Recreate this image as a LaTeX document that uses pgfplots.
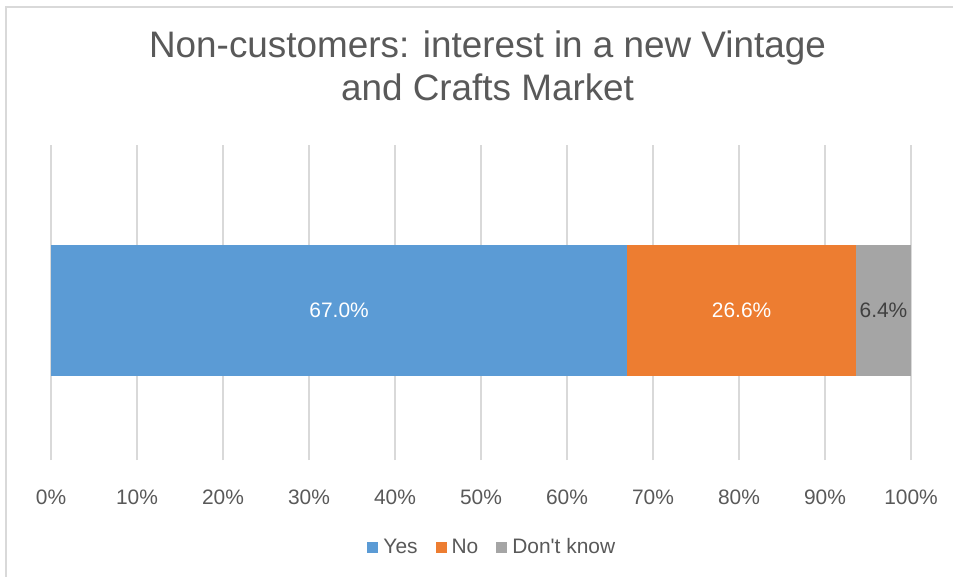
\documentclass[border=0pt]{standalone}
\usepackage{pgfplots}
\pgfplotsset{compat=1.18}
\usepackage{fontspec}
\setmainfont{Liberation Sans}[Ligatures=TeXOff]
\definecolor{cYes}{HTML}{5B9BD5}
\definecolor{cNo}{HTML}{ED7D31}
\definecolor{cDK}{HTML}{A5A5A5}
\definecolor{txt}{HTML}{595959}
\definecolor{gridc}{HTML}{D9D9D9}
\begin{document}
\begin{tikzpicture}
\useasboundingbox (0,0) rectangle (953bp,577bp);
\fill[white] (0,0) rectangle (953bp,577bp);
\draw[gridc, line width=1.5bp] (6bp,-10bp) -- (6bp,570bp) -- (965bp,570bp);
\begin{axis}[
  at={(51bp,117bp)}, anchor=south west,
  scale only axis, width=860bp, height=315bp,
  xbar stacked, bar width=131bp,
  xmin=0, xmax=100, ymin=0, ymax=315,
  enlargelimits=false, clip=false,
  axis line style={draw=none},
  major tick length=0pt,
  ytick=\empty,
  xtick={0,10,...,100},
  xmajorgrids,
  grid style={gridc, line width=1.2bp},
  /pgf/number format/assume math mode=true,
  xticklabel={\pgfmathprintnumber{\tick}\%},
  xticklabel style={font=\fontsize{21}{25}\selectfont, text=txt, anchor=center, yshift=-37bp},
  title={Non-customers: interest in a new Vintage\\and Crafts Market},
  title style={font=\fontsize{37}{43}\selectfont, text=txt, align=center, at={(0.5076,1)}, anchor=center, yshift=73.5bp},
  legend columns=3,
  legend style={draw=none, fill=none, at={(0.512,0)}, anchor=center, yshift=-87bp,
    font=\fontsize{21}{25}\selectfont, text=txt,
    nodes={inner sep=0pt},
    /tikz/every odd column/.append style={column sep=5bp},
    /tikz/every even column/.append style={column sep=18bp},
    inner sep=0pt},
  legend image code/.code={\fill[#1,draw=none] (0bp,-5.5bp) rectangle (11bp,5.5bp);},
]
\addplot[fill=cYes, draw=none] coordinates {(67.0,149.5)};
\addplot[fill=cNo, draw=none] coordinates {(26.6,149.5)};
\addplot[fill=cDK, draw=none] coordinates {(6.4,149.5)};
\legend{Yes, No, Don't know}
\coordinate (l1) at (axis cs:33.5,149.5);
\coordinate (l2) at (axis cs:80.3,149.5);
\coordinate (l3) at (axis cs:96.8,149.5);
\end{axis}
\node[font=\fontsize{21}{25}\selectfont, text=white] at (l1) {67.0\%};
\node[font=\fontsize{21}{25}\selectfont, text=white] at (l2) {26.6\%};
\node[font=\fontsize{21}{25}\selectfont, text=black!75] at (l3) {6.4\%};
\end{tikzpicture}
\end{document}
